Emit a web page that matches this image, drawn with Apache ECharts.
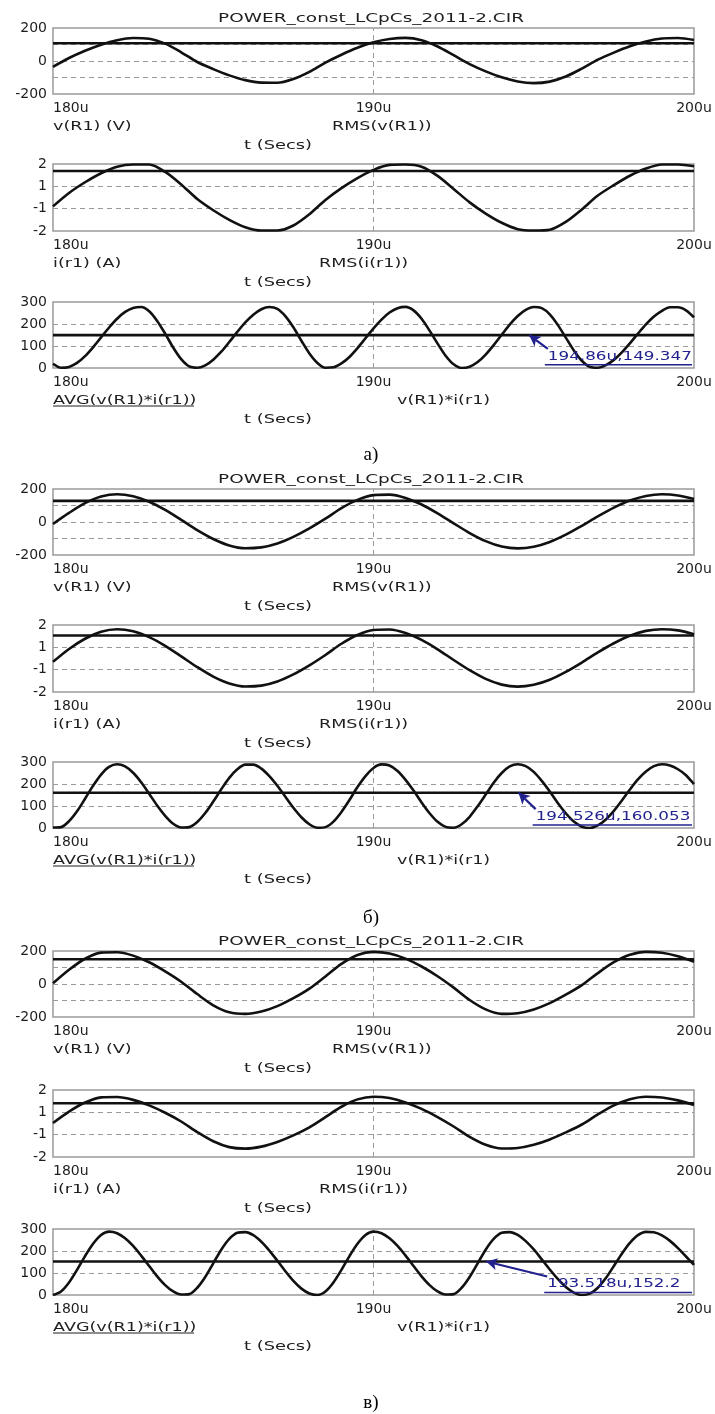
<!DOCTYPE html>
<html>
<head>
<meta charset="utf-8">
<title>POWER_const_LCpCs_2011-2.CIR</title>
<script src="https://cdn.jsdelivr.net/npm/echarts@6/dist/echarts.min.js"></script>
<style>
  html, body { margin: 0; padding: 0; background: #fff; }
  #chart { width: 715px; height: 1414px; }
</style>
</head>
<body>
<div id="chart"></div>
<script>
// ---- data (t in microseconds) ----
var TITLE = 'POWER_const_LCpCs_2011-2.CIR';
var PANEL_LABELS = ['а)', 'б)', 'в)'];

var T_HALF = [180,180.5,181,181.5,182,182.5,183,183.5,184,184.5,185,185.5,186,186.5,187,187.5,188,188.5,189,189.5,190,190.5,191,191.5,192,192.5,193,193.5,194,194.5,195,195.5,196,196.5,197,197.5,198,198.5,199,199.5,200];
var T_QUARTER = [180,180.25,180.5,180.75,181,181.25,181.5,181.75,182,182.25,182.5,182.75,183,183.25,183.5,183.75,184,184.25,184.5,184.75,185,185.25,185.5,185.75,186,186.25,186.5,186.75,187,187.25,187.5,187.75,188,188.25,188.5,188.75,189,189.25,189.5,189.75,190,190.25,190.5,190.75,191,191.25,191.5,191.75,192,192.25,192.5,192.75,193,193.25,193.5,193.75,194,194.25,194.5,194.75,195,195.25,195.5,195.75,196,196.25,196.5,196.75,197,197.25,197.5,197.75,198,198.25,198.5,198.75,199,199.25,199.5,199.75,200];

// panel a)
var A_V = [-35,18,62,99,126,139,135,105,53,-6,-49,-87,-116,-131,-132,-109,-66,-10,38,80,113,133,140,126,88,35,-19,-63,-99,-124,-134,-125,-94,-46,8,51,89,118,136,139,127];
var A_I = [-0.53,0.27,0.91,1.45,1.84,1.97,1.97,1.53,0.78,-0.09,-0.76,-1.33,-1.77,-1.97,-1.97,-1.67,-1.00,-0.15,0.56,1.16,1.65,1.95,1.97,1.84,1.29,0.51,-0.29,-0.96,-1.51,-1.89,-1.97,-1.92,-1.45,-0.71,0.12,0.74,1.30,1.73,1.97,1.97,1.87];
var A_P = [19,1,5,23,54,94,139,184,224,255,273,277,258,214,156,93,40,7,1,12,38,74,118,164,207,242,267,277,269,236,185,124,66,23,1,3,21,50,90,135,180,220,252,272,278,262,224,170,111,56,17,0,6,27,61,104,151,197,236,264,277,272,244,196,138,80,33,5,1,13,37,71,112,156,198,234,260,276,276,262,230];

// panel б)
var B_V = [-12,55,114,154,168,156,123,73,13,-49,-103,-142,-159,-154,-130,-90,-39,20,84,134,163,166,146,106,52,-8,-67,-116,-149,-160,-150,-121,-77,-23,34,87,130,158,168,161,139];
var B_I = [-0.2,0.57,1.18,1.60,1.75,1.63,1.28,0.76,0.13,-0.51,-1.08,-1.49,-1.67,-1.62,-1.37,-0.95,-0.41,0.21,0.88,1.40,1.70,1.73,1.52,1.11,0.55,-0.09,-0.70,-1.22,-1.56,-1.68,-1.57,-1.27,-0.80,-0.24,0.36,0.91,1.36,1.65,1.75,1.68,1.45];
var B_P = [2,4,31,76,133,192,243,278,290,280,251,208,156,102,55,19,2,4,27,68,120,176,228,267,288,288,270,236,192,142,92,49,17,1,4,29,73,127,186,236,273,289,284,259,219,170,116,67,28,5,1,17,51,99,152,206,250,280,290,281,255,214,166,114,67,29,6,0,12,39,78,125,175,221,257,281,290,284,267,240,200];

// panel в)
var C_V = [4,86,153,190,192,172,132,77,14,-61,-129,-171,-181,-167,-134,-86,-28,46,122,176,195,185,154,106,47,-22,-97,-154,-181,-177,-154,-116,-65,-7,66,132,177,195,189,168,135];
var C_I = [0.03,0.71,1.25,1.56,1.58,1.41,1.08,0.64,0.12,-0.51,-1.06,-1.41,-1.50,-1.38,-1.10,-0.71,-0.23,0.38,1.00,1.44,1.60,1.52,1.26,0.87,0.38,-0.18,-0.80,-1.27,-1.49,-1.46,-1.27,-0.95,-0.53,-0.06,0.54,1.08,1.45,1.60,1.55,1.38,1.10];
var C_P = [0,16,57,114,177,233,273,288,281,258,223,179,132,85,45,16,2,4,33,82,144,206,255,283,286,272,242,202,156,108,64,29,7,0,16,57,114,177,233,273,288,281,258,223,179,132,85,45,16,2,4,33,82,144,206,255,283,286,273,245,207,162,116,73,36,11,0,6,33,77,132,188,237,272,287,285,271,246,213,175,137];

// horizontal levels: RMS(v), RMS(i), AVG(p)
var V_RMS = [108, 128, 150];
var I_RMS = [1.58, 1.37, 1.21];
var P_AVG = [149.347, 160.053, 152.2];

// cursor marks on the AVG line
var CURSOR_T = [194.86, 194.526, 193.518];
var CURSOR_TAIL = [[195.44, 87], [195.06, 86], [195.42, 84]];
var CURSOR_TEXT = ['194.86u,149.347', '194.526u,160.053', '193.518u,152.2'];

// axes / tick labels
var X_TICKS = [180, 190, 200];
var V_LABELED = [200, 0, -200];
var I_TICKS = [-2, -2 / 3, 2 / 3, 2];
var LEFT_NAMES = ['v(R1) (V)', 'i(r1) (A)', 'AVG(v(R1)*i(r1))'];
var MID_NAMES = ['RMS(v(R1))', 'RMS(i(r1))', 'v(R1)*i(r1)'];
var X_NAME = 't (Secs)';

(function () {
  // ---- layout ----
  var BOX_TOP = [[28, 164, 302], [489, 625, 762], [951, 1090, 1229]];
  var BOX_H = [66, 67, 66];
  var LEFT = 53, RIGHT = 694;
  var MID_X = [332, 319, 397];
  var LABEL_Y = [455, 918, 1403];
  var TEXT = '#1e1e1e', GRIDC = '#9a9a9a', INK = '#111', BLUE = '#22228f';
  var FONT = '"DejaVu Sans"';

  var DATA = [
    { v: A_V, i: A_I, p: A_P },
    { v: B_V, i: B_I, p: B_P },
    { v: C_V, i: C_I, p: C_P }
  ];

  function pairs(ts, ys) {
    return ts.map(function (t, n) { return [t, ys[n]]; });
  }

  var yAxisSpec = [
    { min: -200, max: 200, interval: 100,
      formatter: function (v) { return V_LABELED.indexOf(Math.round(v)) >= 0 ? String(Math.round(v)) : ''; } },
    { min: -2, max: 2, interval: 2 / 3,
      formatter: function (v) {
        // MicroCap prints the +-2/3 grid rounded to integers
        var r = Math.round(v * 3);
        return (r === 6 || r === -6 || r === 2 || r === -2) ? String(Math.round(v)) : '';
      } },
    { min: 0, max: 300, interval: 100,
      formatter: function (v) { return String(Math.round(v)); } }
  ];

  var grids = [], xAxes = [], yAxes = [], series = [], graphics = [];

  function txt(str, x, y, o) {
    o = o || {};
    var al = o.align || 'left', va = o.va || 'middle';
    return {
      type: 'text', x: x, y: y, scaleX: o.sx || 1.35, silent: true, z: 20,
      style: {
        text: str, fill: o.color || TEXT,
        font: (o.size || 13) + 'px ' + (o.family || FONT),
        align: al, verticalAlign: va
      }
    };
  }

  for (var k = 0; k < 3; k++) {
    var d = DATA[k];
    var curves = [d.v, d.i, d.p];
    var levels = [V_RMS[k], I_RMS[k], P_AVG[k]];
    graphics.push(txt(TITLE, 371, BOX_TOP[k][0] - 9, { align: 'center', sx: 1.42 }));
    graphics.push(txt(PANEL_LABELS[k], 371, LABEL_Y[k], { align: 'center', sx: 1, size: 19, family: '"Liberation Serif"', color: '#000' }));

    for (var j = 0; j < 3; j++) {
      var idx = k * 3 + j;
      var boxTop = BOX_TOP[k][j], boxBot = boxTop + BOX_H[j];
      grids.push({ left: LEFT, top: boxTop, width: RIGHT - LEFT, height: BOX_H[j],
        show: true, borderColor: GRIDC, borderWidth: 1.5 });
      xAxes.push({
        type: 'value', gridIndex: idx, min: X_TICKS[0], max: X_TICKS[2],
        interval: X_TICKS[1] - X_TICKS[0],
        axisLine: { show: false }, axisTick: { show: false },
        axisLabel: { color: TEXT, fontSize: 14, fontFamily: FONT, margin: 7, alignMinLabel: 'left',
          formatter: function (v) { return v + 'u'; } },
        splitLine: { show: false }
      });
      var ys = yAxisSpec[j];
      yAxes.push({
        type: 'value', gridIndex: idx, min: ys.min, max: ys.max, interval: ys.interval,
        axisLine: { show: false }, axisTick: { show: false },
        axisLabel: { color: TEXT, fontSize: 14, fontFamily: FONT, margin: 6, formatter: ys.formatter },
        splitLine: { show: false }
      });

      // dashed interior grid lines
      var gridLines = [{ xAxis: X_TICKS[1] }];
      if (j === 0) gridLines.push({ yAxis: -100 }, { yAxis: 0 }, { yAxis: 100 });
      if (j === 1) gridLines.push({ yAxis: I_TICKS[1] }, { yAxis: I_TICKS[2] });
      if (j === 2) gridLines.push({ yAxis: 100 }, { yAxis: 200 });

      var curve = {
        type: 'line', xAxisIndex: idx, yAxisIndex: idx,
        data: pairs(j === 2 ? T_QUARTER : T_HALF, curves[j]),
        showSymbol: false, smooth: 0.3, z: 3,
        lineStyle: { color: INK, width: 2.6 }
      };
      if (j === 2) {
        curve.markLine = {
          silent: true, symbol: ['arrow', 'none'], symbolSize: [9, 11], z: 6,
          lineStyle: { color: BLUE, width: 2.2, type: 'solid' },
          label: { show: false },
          data: [[{ coord: [CURSOR_T[k], P_AVG[k]] }, { coord: CURSOR_TAIL[k] }]]
        };
      }
      series.push(curve);
      series.push({
        type: 'line', xAxisIndex: idx, yAxisIndex: idx,
        data: [[X_TICKS[0], levels[j]], [X_TICKS[2], levels[j]]],
        showSymbol: false, z: 2, lineStyle: { color: INK, width: 2.6 },
        markLine: {
          silent: true, symbol: 'none', z: 1, label: { show: false },
          lineStyle: { color: GRIDC, type: [5, 4], width: 1 },
          data: gridLines
        }
      });

      graphics.push(txt(LEFT_NAMES[j], LEFT, boxBot + 33));
      graphics.push(txt(MID_NAMES[j], MID_X[j], boxBot + 33));
      graphics.push(txt(X_NAME, 278, boxBot + 52, { align: 'center', sx: 1.37 }));
      if (j === 2) {
        graphics.push({ type: 'line', silent: true, z: 20,
          shape: { x1: LEFT, y1: boxBot + 38, x2: LEFT + 141, y2: boxBot + 38 },
          style: { stroke: TEXT, lineWidth: 1 } });
      }
    }
  }

  var chart = echarts.init(document.getElementById('chart'));
  chart.setOption({
    animation: false,
    backgroundColor: '#fff',
    grid: grids, xAxis: xAxes, yAxis: yAxes, series: series,
    graphic: { elements: graphics.slice() }
  });

  // cursor readouts, placed at the arrow tail through the axes' own scales
  var extra = [];
  for (var m = 0; m < 3; m++) {
    var gi = m * 3 + 2;
    var pt = chart.convertToPixel({ xAxisIndex: gi, yAxisIndex: gi }, CURSOR_TAIL[m]);
    extra.push(txt(CURSOR_TEXT[m], pt[0], pt[1] + 1, { va: 'top', color: BLUE, sx: 1.29 }));
    extra.push({ type: 'line', silent: true, z: 20,
      shape: { x1: pt[0] - 3, y1: pt[1] + 16, x2: RIGHT - 2, y2: pt[1] + 16 },
      style: { stroke: BLUE, lineWidth: 1.5 } });
  }
  chart.setOption({ graphic: { elements: graphics.concat(extra) } }, { replaceMerge: ['graphic'] });

  window.addEventListener('resize', function () { chart.resize(); });
})();
</script>
</body>
</html>
